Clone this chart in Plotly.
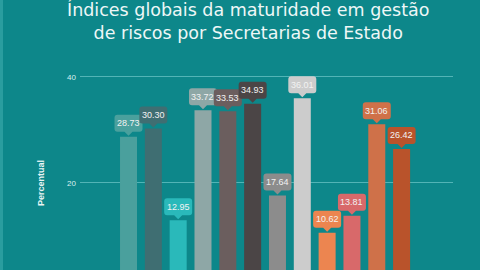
import plotly.graph_objects as go

categories = ["S1", "S2", "S3", "S4", "S5", "S6", "S7", "S8", "S9", "S10", "S11", "S12"]
values = [28.73, 30.30, 12.95, 33.72, 33.53, 34.93, 17.64, 36.01, 10.62, 13.81, 31.06, 26.42]
colors = ["#4aa09d", "#3f6e72", "#2ab9ba", "#8ea7a6", "#6b5e5e", "#4b4546",
          "#8c8c8c", "#cccccc", "#ec8550", "#d8696a", "#cf7149", "#b9532b"]
y_ticks = [0, 20, 40]
title_lines = ["Índices globais da maturidade em gestão", "de riscos por Secretarias de Estado"]
y_title = "Percentual"

BG = "#0d878a"
xs = list(range(len(categories)))

fig = go.Figure()
fig.add_trace(go.Bar(x=xs, y=values, marker=dict(color=colors, line=dict(width=0)),
                     width=0.685, hoverinfo="skip"))

# label callouts (rounded box with pointer), in pixels anchored at bar tops
box_path = ("M -4,5 L 0,1 L 4,5 L 11,5 Q 14,5 14,8 L 14,19 Q 14,22 11,22 "
            "L -11,22 Q -14,22 -14,19 L -14,8 Q -14,5 -11,5 Z")
for x, v, c in zip(xs, values, colors):
    fig.add_shape(type="path", xref="x", yref="y", xsizemode="pixel", ysizemode="pixel",
                  xanchor=x, yanchor=v, path=box_path, fillcolor=c, line=dict(width=0),
                  layer="above")
    fig.add_annotation(x=x, y=v, text=f"{v:.2f}", showarrow=False, yshift=13.5,
                       yanchor="middle", xanchor="center",
                       font=dict(family="Liberation Sans, Arial", size=9, color="#f2f2f2"))

PLOT_H = 220
PLOT_W = 373

# title (two lines)
fig.add_annotation(xref="paper", yref="paper", x=(248 - 80) / PLOT_W,
                   y=(270 - 21) / PLOT_H, text="<br>".join(title_lines), showarrow=False,
                   xanchor="center", yanchor="middle", align="center",
                   font=dict(family="DejaVu Sans", size=17.5, color="#eef7f7"))

fig.add_annotation(xref="paper", yref="paper", x=(41 - 80) / PLOT_W, y=(270 - 183) / PLOT_H,
                   text=f"<b>{y_title}</b>", textangle=-90, showarrow=False,
                   xanchor="center", yanchor="middle",
                   font=dict(family="Liberation Sans, Arial", size=9, color="#e8f4f4"))

# light left border strip
fig.add_shape(type="rect", xref="paper", yref="paper", x0=-80 / PLOT_W, x1=-77 / PLOT_W,
              y0=-0.1, y1=1.4, fillcolor="#2a9d9f", line=dict(width=0), layer="below")

fig.update_layout(
    width=480, height=270,
    margin=dict(l=80, r=27, t=50, b=0),
    paper_bgcolor=BG, plot_bgcolor=BG,
    showlegend=False,
    bargap=0.3,
    xaxis=dict(range=[-1.954, 13.07], showticklabels=False, showgrid=False, zeroline=False,
               fixedrange=True),
    yaxis=dict(range=[3.585, 45.09], tickvals=y_ticks, ticktext=[str(t) for t in y_ticks],
               showgrid=True, gridcolor="#52b4b6", gridwidth=1, zeroline=False,
               tickfont=dict(family="Liberation Sans, Arial", size=8, color="#d8eeee"),
               ticklabelstandoff=3, fixedrange=True),
)

fig.write_html("out.html")
